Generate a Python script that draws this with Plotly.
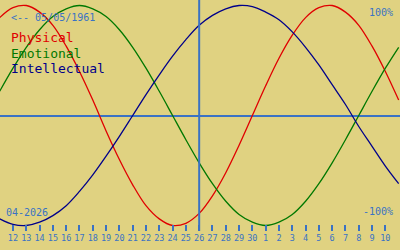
import plotly.graph_objects as go

# day index: 0 = 12 April 2026, 14 = 26 April 2026 (marked day)
days = list(range(-1, 30))
physical = [89, 98, 100, 94, 82, 63, 40, 14, -14, -40, -63, -82, -94, -100, -98, -89,
            -73, -52, -27, 0, 27, 52, 73, 89, 98, 100, 94, 82, 63, 40, 14]
emotional = [22, 43, 62, 78, 90, 97, 100, 97, 90, 78, 62, 43, 22, 0, -22, -43,
             -62, -78, -90, -97, -100, -97, -90, -78, -62, -43, -22, 0, 22, 43, 62]
intellectual = [-94, -99, -100, -97, -91, -82, -69, -54, -37, -19, 0, 19, 37, 54, 69, 82,
                91, 97, 100, 99, 94, 87, 76, 62, 46, 28, 10, -10, -28, -46, -62]
tick_days = list(range(0, 29))
tick_labels = ["12", "13", "14", "15", "16", "17", "18", "19", "20", "21", "22", "23",
               "24", "25", "26", "27", "28", "29", "30", "1", "2", "3", "4", "5",
               "6", "7", "8", "9", "10"]
marked_day = 14
series_names = ["Physical", "Emotional", "Intellectual"]
series_colors = ["#e00000", "#007800", "#00008a"]

BG = "#e0d281"
BLUE = "#3a72c4"
FONT = "DejaVu Sans Mono"

fig = go.Figure()
for name, vals, col in zip(series_names, [physical, emotional, intellectual], series_colors):
    fig.add_trace(go.Scatter(x=days, y=vals, mode="lines", name=name,
                             line=dict(color=col, width=1.3, shape="spline"),
                             hoverinfo="skip"))

fig.add_shape(type="line", xref="x", yref="paper", x0=marked_day, x1=marked_day,
              y0=0, y1=1, line=dict(color=BLUE, width=2))

H = 231.0
W = 400.0

def ann(text, px, py, color, size, xanchor="left"):
    fig.add_annotation(text=text, xref="paper", yref="paper", x=px / W, y=1 - py / H,
                       xanchor=xanchor, yanchor="middle", showarrow=False,
                       font=dict(family=FONT, size=size, color=color))

ann("&lt;-- 05/05/1961", 9, 17, BLUE, 10)
for i, (name, col) in enumerate(zip(series_names, series_colors)):
    ann(name, 9, 38 + 15 * i, col, 13)
ann("100%", 395, 12, BLUE, 10, "right")
ann("-100%", 395, 211, BLUE, 10, "right")
ann("04-2026", 4, 212, BLUE, 10)

fig.update_layout(
    width=400, height=250,
    margin=dict(l=0, r=0, t=0, b=19),
    paper_bgcolor=BG, plot_bgcolor=BG,
    showlegend=False, hovermode=False,
    xaxis=dict(range=[-0.977, 29.1], showgrid=False, zeroline=False, showline=False,
               tickvals=tick_days, ticktext=tick_labels, ticks="inside", ticklen=6,
               tickwidth=1.5, tickcolor=BLUE,
               tickfont=dict(family=FONT, size=8.5, color=BLUE)),
    yaxis=dict(range=[-105, 105], showgrid=False, showticklabels=False,
               zeroline=True, zerolinecolor=BLUE, zerolinewidth=1.6, showline=False),
)

fig.write_html("out.html")
